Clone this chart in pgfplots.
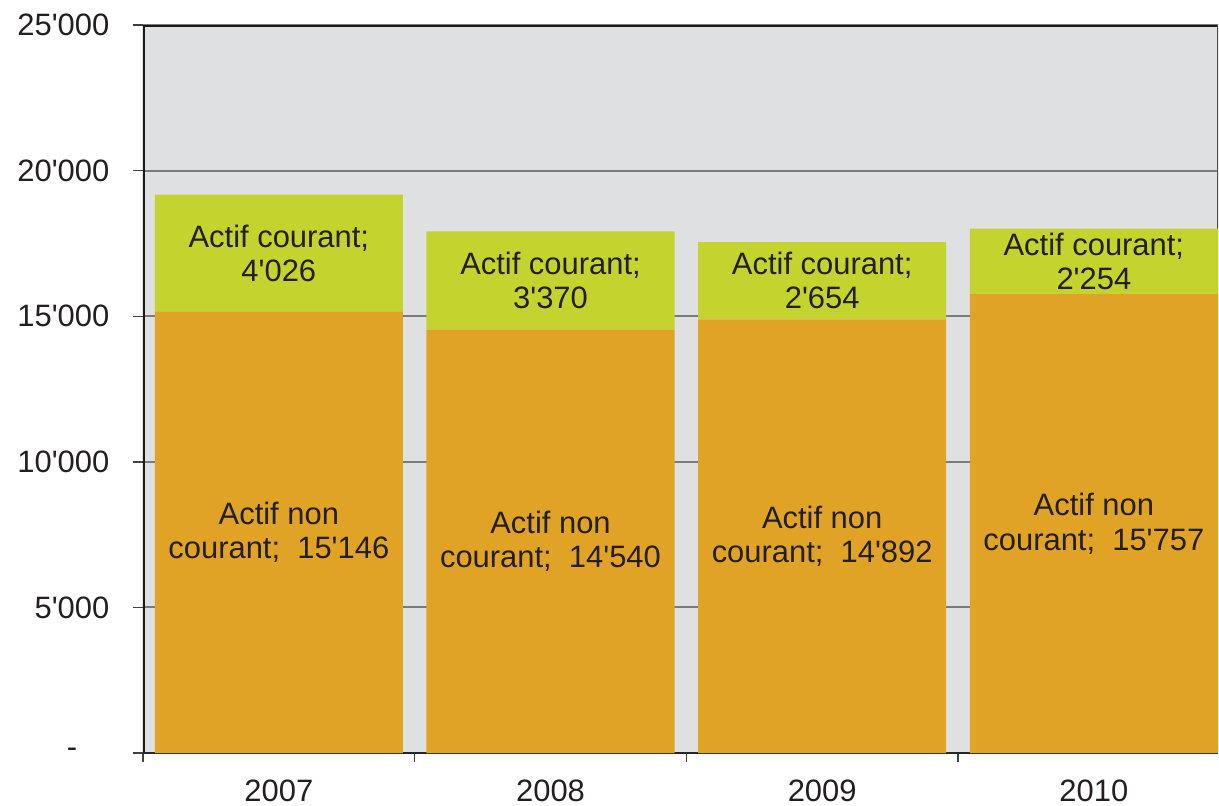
\documentclass[border=0pt]{standalone}
\usepackage{pgfplots}
\pgfplotsset{compat=1.18}
\usepackage{fontspec}
\setmainfont{Liberation Sans}[Ligatures=TeXOff]
\definecolor{bgray}{RGB}{223,224,226}
\definecolor{orangebar}{RGB}{225,163,38}
\definecolor{greenbar}{RGB}{196,211,46}
\definecolor{txt}{RGB}{35,31,32}

\begin{document}
\begin{tikzpicture}[font=\fontsize{8.8}{9.8}\selectfont, text=txt]
\begin{axis}[
    width=107.5mm, height=72.8mm, scale only axis,
    ybar stacked, bar width=0.913,
    xmin=-0.5, xmax=3.457, ymin=0, ymax=25000,
    axis background/.style={fill=bgray},
    axis line style={draw=none},
    xtick={0,1,2,3}, xticklabels={2007,2008,2009,2010},
    minor xtick={-0.5,0.5,1.5,2.5},
    major x tick style={draw=none},
    minor tick length=0.9mm,
    major tick length=1mm,
    xtick pos=bottom, ytick pos=left,
    ytick={0,5000,10000,15000,20000,25000},
    yticklabels={-\hspace*{3.2mm},5'000,10'000,15'000,20'000,25'000},
    scaled y ticks=false,
    tick align=outside,
    tick style={line width=0.4pt, color=black!75},
    ymajorgrids, grid style={line width=0.55pt, color=black!52},
    yticklabel style={inner sep=0pt, xshift=-2.3mm},
    xticklabel style={inner sep=0pt, anchor=north, yshift=-1.6mm},
]
\addplot[fill=orangebar, draw=none] coordinates {(0,15146) (1,14540) (2,14892) (3,15757)};
\addplot[fill=greenbar, draw=none] coordinates {(0,4026) (1,3370) (2,2654) (3,2254)};

% label anchors at the middle of each segment
\coordinate (c0) at (axis cs:0,17159);
\coordinate (c1) at (axis cs:1,16225);
\coordinate (c2) at (axis cs:2,16219);
\coordinate (c3) at (axis cs:3,16884);
\coordinate (n0) at (axis cs:0,7573);
\coordinate (n1) at (axis cs:1,7270);
\coordinate (n2) at (axis cs:2,7446);
\coordinate (n3) at (axis cs:3,7879);

\draw[line width=0.6pt, black!85] (rel axis cs:0,0) -- (rel axis cs:1,0);
\draw[line width=0.4pt, black!70] (rel axis cs:1,0) -- (rel axis cs:1,1);
\draw[line width=1pt, black!90] (rel axis cs:0,1) -- (rel axis cs:1,1);
\draw[line width=1pt, black!90] (rel axis cs:0,0) -- (rel axis cs:0,1);
\end{axis}
\node[align=center] at (c0) {Actif courant;\\4'026};
\node[align=center] at (c1) {Actif courant;\\3'370};
\node[align=center] at (c2) {Actif courant;\\2'654};
\node[align=center] at (c3) {Actif courant;\\2'254};
\node[align=center] at (n0) {Actif non\\courant;\ \ 15'146};
\node[align=center] at (n1) {Actif non\\courant;\ \ 14'540};
\node[align=center] at (n2) {Actif non\\courant;\ \ 14'892};
\node[align=center] at (n3) {Actif non\\courant;\ \ 15'757};
\pgfresetboundingbox
\path[use as bounding box] ([shift={(-14.3mm,-5.2mm)}]current axis.south west) rectangle ([shift={(0.1mm,2.5mm)}]current axis.north east);
\end{tikzpicture}
\end{document}
